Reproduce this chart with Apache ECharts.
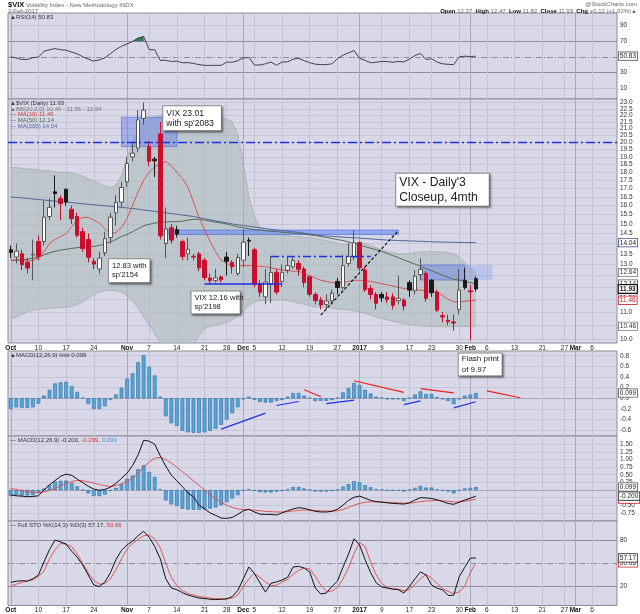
<!DOCTYPE html>
<html>
<head>
<meta charset="utf-8">
<script src="https://cdn.jsdelivr.net/npm/echarts@6.0.0/dist/echarts.min.js"></script>
<style>
html,body{margin:0;padding:0;background:#ffffff;}
#chart{width:640px;height:614px;}
</style>
</head>
<body>
<div id="chart"></div>
<script>
// ---------- trading days (day numbers by month) ----------
const octDays = [3,4,5,6,7,10,11,12,13,14,17,18,19,20,21,24,25,26,27,28,31];
const novDays = [1,2,3,4,7,8,9,10,11,14,15,16,17,18,21,22,23,25,28,29,30];
const decDays = [1,2,5,6,7,8,9,12,13,14,15,16,19,20,21,22,23,27,28,29,30];
const janDays = [3,4,5,6,9,10,11,12,13,17,18,19,20,23,24,25,26,27,30,31];
const febDays = [1,2,3,6,7,8,9,10,13,14,15,16,17,21,22,23,24,27,28];
const marDays = [1,2,3,6,7,8,9,10];

// ---------- x tick labels ----------
const tickDates = ['2016-10-03','2016-10-10','2016-10-17','2016-10-24','2016-11-01','2016-11-07','2016-11-14','2016-11-21','2016-11-28','2016-12-01','2016-12-05','2016-12-12','2016-12-19','2016-12-27','2017-01-03','2017-01-09','2017-01-17','2017-01-23','2017-01-30','2017-02-01','2017-02-06','2017-02-13','2017-02-21','2017-02-27','2017-03-01','2017-03-06'];
const tickTexts = ['Oct','10','17','24','Nov','7','14','21','28','Dec','5','12','19','27','2017','9','17','23','30','Feb','6','13','21','27','Mar','6'];

// ---------- daily candles ----------
const openV = [
 13.70,13.35,13.50,13.10,13.45,14.10,14.10,15.40,16.80,16.40,
 16.95,15.80,15.40,14.60,14.20,13.15,12.80,13.55,14.30,15.60,
 16.20,17.40,19.00,19.60,21.75,19.70,18.85,20.60,14.00,14.80,
 14.70,14.10,13.50,13.38,13.50,13.20,12.40,12.28,12.45,13.35,
 13.10,12.60,13.20,14.16,13.70,12.15,11.60,12.15,12.65,12.25,
 12.75,12.90,13.05,12.80,12.45,11.70,11.47,11.30,11.45,12.25,
 12.00,13.05,13.35,14.05,12.75,11.95,11.70,11.70,11.60,11.60,
 11.45,11.47,12.20,11.85,12.55,12.60,12.30,11.80,10.85,10.68,
 10.62,11.10,12.30,11.85,12.37];
const closeV = [
 13.57,13.63,12.99,12.84,13.48,13.38,15.36,15.91,16.69,16.12,
 16.21,15.28,14.41,13.75,13.34,13.02,13.30,14.24,15.36,16.19,
 17.06,18.56,19.25,21.65,22.40,18.71,18.74,14.38,14.74,14.17,
 14.48,13.37,13.72,13.35,12.85,12.42,12.28,12.40,12.32,13.15,
 12.90,13.33,14.07,14.12,12.14,11.79,12.22,12.64,11.80,12.64,
 12.95,13.19,12.79,12.20,11.71,11.45,11.27,11.43,11.75,11.99,
 12.95,13.37,14.04,12.85,11.90,11.70,11.34,11.56,11.49,11.26,
 11.54,11.23,11.88,12.48,12.78,11.54,11.77,11.07,10.81,10.63,
 10.58,11.88,11.99,11.81,11.93];
const lowV = [
 13.30,13.05,12.75,12.60,12.30,13.20,13.90,15.20,15.90,15.20,
 16.00,15.00,14.30,13.60,13.10,12.80,12.60,13.40,14.00,14.90,
 15.90,17.10,18.70,19.30,21.30,18.40,17.70,14.20,13.30,14.00,
 14.30,13.20,13.20,13.20,12.70,12.30,12.10,12.20,12.20,12.50,
 12.60,12.50,12.90,13.40,12.00,11.60,11.30,11.35,11.70,12.00,
 12.60,12.80,12.50,12.00,11.60,11.30,11.10,11.10,11.30,11.70,
 11.90,12.90,13.20,12.70,11.80,11.50,11.10,11.40,11.35,11.10,
 11.30,11.05,11.60,11.70,12.30,11.40,11.60,11.00,10.60,10.50,
 10.30,10.90,11.90,9.97,11.82];
const highV = [
 13.90,14.00,13.70,13.30,14.20,14.40,16.30,16.40,17.80,16.60,
 17.00,16.00,15.60,14.80,14.50,13.30,13.60,14.60,15.60,16.60,
 17.40,19.00,20.00,22.40,23.01,20.10,19.00,21.50,15.90,15.00,
 14.90,14.20,14.30,13.50,13.60,13.30,12.60,12.80,12.50,13.60,
 13.20,13.50,14.70,14.30,13.80,12.30,12.80,13.40,12.80,13.00,
 13.40,13.40,13.20,12.90,12.50,11.80,11.60,11.70,11.90,12.40,
 13.45,14.05,14.65,14.10,12.90,12.10,11.80,11.80,11.80,11.75,
 12.50,11.55,12.30,12.75,13.30,12.70,12.35,11.90,11.00,10.90,
 10.90,12.80,12.85,12.10,12.47];

// ---------- overlays ----------
const ma10 = [
 13.20,13.20,13.20,13.15,13.20,13.30,13.60,14.00,14.20,14.35,
 14.50,14.85,15.20,15.35,15.35,15.20,15.05,14.75,14.50,14.55,
 14.80,15.30,16.00,16.80,17.50,18.00,18.35,18.55,18.70,18.40,
 18.00,17.60,17.10,16.20,15.35,14.70,14.10,13.60,13.20,13.05,
 12.95,12.95,12.95,12.95,12.95,12.92,12.90,12.85,12.80,12.75,
 12.72,12.70,12.70,12.60,12.50,12.40,12.30,12.25,12.20,12.20,
 12.20,12.25,12.30,12.30,12.28,12.25,12.20,12.15,12.10,12.05,
 12.00,11.95,11.92,11.90,11.88,11.85,11.82,11.80,11.65,11.50,
 11.40,11.40,11.42,11.45,11.46];
const ma50 = [
 13.20,13.20,13.22,13.25,13.30,13.35,13.45,13.55,13.62,13.68,
 13.72,13.76,13.80,13.82,13.84,13.86,13.90,13.98,14.08,14.20,
 14.35,14.45,14.60,14.75,14.90,14.98,15.05,15.08,15.10,15.12,
 15.12,15.15,15.20,15.25,15.25,15.20,15.15,15.10,15.05,15.00,
 14.92,14.85,14.80,14.75,14.70,14.68,14.65,14.62,14.60,14.57,
 14.55,14.52,14.50,14.47,14.43,14.40,14.35,14.30,14.25,14.20,
 14.15,14.08,14.00,13.93,13.85,13.77,13.70,13.62,13.52,13.42,
 13.32,13.22,13.12,13.02,12.92,12.82,12.72,12.62,12.52,12.43,
 12.35,12.30,12.25,12.20,12.14];
const ma200 = [
 16.50,16.47,16.44,16.41,16.38,16.35,16.32,16.29,16.26,16.23,
 16.20,16.17,16.14,16.11,16.08,16.05,16.02,15.99,15.96,15.93,
 15.90,15.87,15.84,15.80,15.76,15.72,15.68,15.64,15.60,15.56,
 15.52,15.48,15.44,15.40,15.34,15.28,15.22,15.16,15.11,15.06,
 15.00,14.96,14.92,14.88,14.84,14.80,14.76,14.72,14.68,14.65,
 14.62,14.59,14.56,14.52,14.48,14.44,14.40,14.38,14.36,14.34,
 14.32,14.30,14.29,14.27,14.25,14.23,14.21,14.19,14.17,14.16,
 14.15,14.14,14.13,14.12,14.11,14.10,14.09,14.08,14.07,14.07,
 14.06,14.06,14.05,14.05,14.04];
const bbUpper = [
 18.30,18.30,18.25,18.20,18.20,18.15,18.10,18.10,18.05,18.00,
 18.00,17.95,17.85,17.75,17.60,17.45,17.30,17.15,17.05,17.20,
 17.80,18.90,20.00,20.90,21.50,21.70,21.85,22.00,22.10,22.15,
 22.20,22.15,22.10,22.05,22.00,21.95,21.90,21.85,21.80,21.70,
 21.50,20.60,18.60,16.50,15.40,14.80,14.65,14.60,14.50,14.45,
 14.40,14.35,14.35,14.30,14.30,14.25,14.20,14.15,14.10,14.00,
 13.95,13.95,14.00,14.05,14.00,13.90,13.80,13.70,13.60,13.55,
 13.50,13.50,13.50,13.55,13.60,13.60,13.60,13.60,13.60,13.55,
 13.50,13.35,13.10,12.85,12.64];
const bbLower = [
 10.75,10.80,10.90,11.00,11.08,11.10,11.12,11.14,11.16,11.17,
 11.18,11.22,11.28,11.40,11.55,11.69,11.80,11.86,11.88,11.86,
 11.80,11.65,11.45,11.15,10.80,10.50,10.20,9.85,9.50,9.35,
 9.30,9.30,9.40,9.80,10.10,10.38,10.45,10.50,10.55,10.60,
 10.70,10.85,11.05,11.25,11.40,11.45,11.45,11.45,11.47,11.48,
 11.45,11.40,11.35,11.30,11.25,11.20,11.20,11.18,11.15,11.12,
 11.10,11.08,11.05,11.00,10.95,10.88,10.80,10.75,10.70,10.65,
 10.60,10.55,10.52,10.50,10.47,10.46,10.45,10.45,10.44,10.44,
 10.45,10.45,10.45,10.46,10.46];

// ---------- indicators ----------
const rsi = [
 50.0,48.5,46.6,46.6,49.0,49.6,57.0,59.0,60.5,59.0,
 58.4,56.0,53.8,50.0,47.0,44.5,46.0,48.7,54.0,59.3,
 63.5,66.5,69.5,74.0,76.0,59.0,59.0,45.4,45.5,44.0,
 44.5,42.4,42.5,41.5,40.0,39.0,39.0,39.0,39.0,43.3,
 43.0,45.0,48.5,49.2,39.5,39.5,41.0,43.3,39.0,43.3,
 43.5,47.0,48.0,45.0,42.5,40.5,40.0,40.0,41.0,47.5,
 52.0,55.0,58.0,48.0,45.4,42.4,43.0,44.1,43.8,43.0,
 44.0,43.5,47.0,51.7,54.2,46.6,47.5,43.3,41.0,40.3,
 40.0,50.0,50.8,50.2,50.83];
const rsiHotIdx = [22,23,24];
const rsiHotVal = [70.0,74.0,76.0];
const macdHist = [
 -0.20,-0.17,-0.18,-0.18,-0.17,-0.10,0.05,0.16,0.28,0.30,
 0.31,0.23,0.12,0.01,-0.11,-0.20,-0.20,-0.15,-0.03,0.07,
 0.20,0.37,0.47,0.68,0.81,0.59,0.43,0.03,-0.34,-0.47,
 -0.52,-0.61,-0.64,-0.65,-0.65,-0.64,-0.61,-0.57,-0.50,-0.40,
 -0.28,-0.17,-0.02,0.03,-0.03,-0.07,-0.08,-0.08,-0.05,-0.03,
 0.03,0.10,0.10,0.05,0.01,-0.05,-0.05,-0.05,-0.03,0.01,
 0.11,0.19,0.29,0.25,0.16,0.09,0.03,0.01,-0.02,-0.02,
 -0.02,-0.05,0.01,0.07,0.13,0.08,0.08,0.02,-0.02,-0.05,
 -0.11,-0.02,0.05,0.07,0.099];
const macdLine = [
 -0.16,-0.19,-0.20,-0.22,-0.21,-0.19,0.00,0.17,0.31,0.45,
 0.52,0.48,0.36,0.24,0.12,0.03,-0.01,0.02,0.09,0.22,
 0.38,0.55,0.80,1.15,1.63,1.60,1.50,1.12,0.78,0.49,
 0.30,0.11,-0.10,-0.22,-0.50,-0.62,-0.75,-0.83,-0.92,-0.93,
 -0.90,-0.80,-0.68,-0.63,-0.72,-0.79,-0.80,-0.80,-0.82,-0.75,
 -0.68,-0.62,-0.58,-0.60,-0.65,-0.70,-0.72,-0.72,-0.70,-0.63,
 -0.50,-0.34,-0.24,-0.20,-0.27,-0.34,-0.38,-0.40,-0.42,-0.44,
 -0.45,-0.46,-0.42,-0.33,-0.25,-0.26,-0.28,-0.32,-0.38,-0.44,
 -0.47,-0.40,-0.33,-0.27,-0.20];
const macdSignal = [
 0.05,0.02,-0.02,-0.05,-0.08,-0.09,-0.06,-0.02,0.05,0.14,
 0.22,0.28,0.31,0.30,0.27,0.23,0.18,0.14,0.12,0.14,
 0.20,0.28,0.38,0.55,0.75,0.92,1.04,1.07,1.00,0.88,
 0.75,0.60,0.45,0.30,0.15,0.00,-0.15,-0.28,-0.40,-0.50,
 -0.57,-0.62,-0.64,-0.65,-0.66,-0.68,-0.70,-0.71,-0.72,-0.72,
 -0.71,-0.69,-0.67,-0.66,-0.66,-0.67,-0.68,-0.69,-0.69,-0.68,
 -0.64,-0.57,-0.50,-0.44,-0.40,-0.39,-0.39,-0.39,-0.40,-0.41,
 -0.42,-0.43,-0.43,-0.41,-0.38,-0.36,-0.35,-0.34,-0.35,-0.37,
 -0.39,-0.39,-0.37,-0.34,-0.30];
const stoK = [
 25.5,27.0,27.5,27.0,30.0,35.0,52.0,68.0,80.4,78.0,
 75.0,66.0,58.0,48.0,35.0,22.0,20.0,26.0,38.0,55.0,
 67.0,74.0,79.0,86.0,91.8,84.0,72.0,56.0,30.0,18.0,
 16.0,12.0,9.0,7.0,5.0,4.4,3.5,3.1,3.5,4.0,
 7.0,15.0,30.0,45.4,37.0,25.0,12.8,24.2,26.0,28.5,
 31.8,45.4,46.2,44.0,39.0,18.0,10.3,11.6,20.0,27.0,
 45.0,62.0,82.0,74.0,55.0,38.0,25.0,19.5,18.0,16.6,
 16.0,11.6,20.0,30.0,39.0,35.0,22.0,17.9,15.8,8.6,
 8.6,32.7,45.0,56.8,57.17];
const stoD = [
 20.9,23.0,25.5,27.5,29.0,33.0,40.0,56.0,68.0,76.0,
 75.0,72.0,62.0,50.0,38.0,28.0,23.0,24.0,30.0,42.0,
 56.0,68.6,76.0,81.3,86.0,87.0,82.0,70.0,50.0,32.0,
 21.0,15.0,11.0,9.0,7.0,6.0,5.0,4.4,4.0,4.0,
 5.0,9.0,20.0,30.0,37.0,32.0,26.0,21.3,21.5,26.0,
 29.0,36.0,41.0,44.0,43.0,33.0,22.0,13.7,14.0,18.7,
 30.0,44.0,63.0,77.0,72.0,52.0,35.0,24.0,18.7,17.0,
 16.6,14.5,16.0,23.0,30.0,35.6,31.0,24.2,17.0,13.7,
 11.0,13.0,20.9,38.0,50.66];

// ---------- axis tick values ----------
const rsiTicks = [90,70,30,10];
const mainTicks = [23.0,22.5,22.0,21.5,21.0,20.5,20.0,19.5,19.0,18.5,18.0,17.5,17.0,16.5,16.0,15.5,15.0,14.5,14.0,13.5,13.0,12.5,12.0,11.5,11.0,10.5,10.0];
const mainHiddenLabels = [14.0,12.0,11.5,10.5];
const histTicks = [0.8,0.6,0.4,0.2,0.0,-0.2,-0.4,-0.6];
const histHiddenLabels = [];
const macdTicks = [1.5,1.25,1.0,0.75,0.5,0.25,0.0,-0.25,-0.5,-0.75];
const macdHiddenLabels = [0.0,-0.25];
const stoTicks = [80,20];

// ---------- annotations (data space) ----------
const zoneBoxes = [[20,30,21.85,19.70],[28,70,14.68,14.45],[74,82,12.98,12.31],[82,87,12.98,12.31]];
const trendSeg = [[56,10.88,70,14.65]];
const dashDotSeg = [[47,13.40,65,13.40]];
const solidSeg = [[35,12.16,49,12.16]];
const levelLine = [20.0];
const histRedSeg = [[53,0.16,56,0.03],[62,0.33,71,0.11],[74,0.18,80,0.10],[86,0.14,92,0.01]];
const histBlueSeg = [[38,-0.58,46,-0.28],[48,-0.136,52,-0.06],[57,-0.10,62,-0.036],[71,-0.12,74,-0.05],[80,-0.18,84,-0.065]];
const mainNotes = [
  {i:28, v:22.68, text:"VIX 23.01\nwith sp'2083"},
  {i:18, v:13.22, text:"12.83 with\nsp'2154"},
  {i:33, v:11.80, text:"VIX 12.16 with\nsp'2198"},
  {i:70, v:17.87, text:"VIX - Daily'3\nCloseup, 4mth"}
];
const histNotes = [{i:81, v:0.833, text:"Flash print\nof 9.97"}];

// ---------- build ----------
const pad2 = d => (d < 10 ? '0' : '') + d;
const dates = [].concat(
  octDays.map(d => '2016-10-' + pad2(d)), novDays.map(d => '2016-11-' + pad2(d)),
  decDays.map(d => '2016-12-' + pad2(d)), janDays.map(d => '2017-01-' + pad2(d)),
  febDays.map(d => '2017-02-' + pad2(d)), marDays.map(d => '2017-03-' + pad2(d)));
const LAST = closeV.length - 1;
const FONT = 'Liberation Sans';
const RED = '#c8102e', BLK = '#1a1a1a';
const tickSet = new Set(tickDates);
const isMonthTick = k => isNaN(+tickTexts[k]) || tickTexts[k] === '2017';
const fmt = (v, d) => v.toFixed(d);

const candleData = closeV.map((c, i) => {
  const o = openV[i];
  const red = i > 0 && c < closeV[i - 1];
  const hollow = c > o;
  const edge = red ? RED : (hollow ? '#555555' : BLK);
  const fill = hollow ? '#fcfcfc' : (red ? RED : BLK);
  return {value: [o, c, lowV[i], highV[i]], itemStyle: {color: fill, color0: fill, borderColor: edge, borderColor0: edge, borderWidth: 1}};
});
const rsiHotData = rsi.map((v, i) => { const k = rsiHotIdx.indexOf(i); return k < 0 ? null : rsiHotVal[k]; });

function vLineItems() {
  return tickDates.map((d, k) => ({xAxis: d, lineStyle: {color: isMonthTick(k) ? '#a8a8bb' : '#c3c3d3', width: 1, type: 'solid'}, label: {show: false}}));
}
function hItem(v, text, color, type, width) {
  return {yAxis: v, lineStyle: {color: color, type: type || 'solid', width: width || 1},
    label: text == null ? {show: false} : {show: true, position: 'end', distance: 3, formatter: text, color: '#333', fontSize: 6.5, fontFamily: FONT}};
}
function gridML(items) {
  return {silent: true, symbol: ['none', 'none'], z: 1, animation: false, label: {show: false}, data: items.concat(vLineItems())};
}
function valBox(v, text, border, color, bold) {
  return {coord: [dates[LAST], v], label: {show: true, position: 'right', distance: 142.5, formatter: text,
    backgroundColor: '#fff', borderColor: border, borderWidth: bold ? 1.2 : 0.8, padding: [0, 1, 0, 1],
    fontSize: 6.5, lineHeight: 7.5, color: color, fontWeight: bold ? 'bold' : 'normal', fontFamily: FONT}};
}
function boxesMP(items) {
  return {silent: true, z: 10, animation: false, symbol: 'rect', symbolSize: 1, itemStyle: {color: 'rgba(0,0,0,0)'}, data: items};
}
function noteItem(n, fs, lh, w, pad, dx) {
  return {coord: [dates[n.i], n.v], label: {show: true, position: [0, 0], align: 'left', verticalAlign: 'top', offset: [dx, 0],
    formatter: n.text, fontSize: fs, lineHeight: lh, width: w, padding: pad, color: '#222', fontFamily: FONT,
    backgroundColor: '#ffffff', borderColor: '#8c8c8c', borderWidth: 1,
    shadowColor: 'rgba(0,0,0,0.35)', shadowBlur: 2, shadowOffsetX: 1.5, shadowOffsetY: 1.5}};
}
function seg(s, style) {
  return [{coord: [dates[s[0]], s[1]], lineStyle: style}, {coord: [dates[s[2]], s[3]]}];
}

// horizontal grid definitions
const rsiLines = [
  hItem(90, '90', '#c3c3d3'), hItem(70, '70', '#8e8ea0'), hItem(50, null, '#7a7a8c', [6, 2, 1, 2], 0.8),
  hItem(30, '30', '#8e8ea0'), hItem(10, '10', '#c3c3d3')];
const mainLines = mainTicks.map(v => hItem(v, mainHiddenLabels.indexOf(v) >= 0 ? null : fmt(v, 1), '#c6c6d6'));
const histLines = histTicks.map(v => hItem(v, histHiddenLabels.indexOf(v) >= 0 ? null : fmt(v, 1), v === 0 ? '#a8a8ba' : '#c6c6d6'));
const macdLines = macdTicks.map(v => hItem(v, macdHiddenLabels.indexOf(v) >= 0 ? null : fmt(v, 2), v === 0 ? '#a8a8ba' : '#c6c6d6'));
const stoLines = [hItem(80, '80', '#8e8ea0'), hItem(50, null, '#7a7a8c', [6, 2, 1, 2], 0.8), hItem(20, '20', '#8e8ea0')];

function xAx(gi, show) {
  return {type: 'category', gridIndex: gi, data: dates, boundaryGap: true,
    axisLine: {show: false}, axisTick: {show: false}, splitLine: {show: false},
    axisLabel: {show: show, interval: (i, v) => tickSet.has(v), margin: 1.5, fontSize: 6.5, color: '#222', fontFamily: FONT,
      formatter: v => { const k = tickDates.indexOf(v); if (k < 0) return ''; return isMonthTick(k) ? '{m|' + tickTexts[k] + '}' : tickTexts[k]; },
      rich: {m: {fontWeight: 'bold', fontSize: 6.5, color: '#111', fontFamily: FONT}}}};
}
const gridStyle = {show: true, left: 8, right: 23, backgroundColor: '#d8d8e8', borderColor: '#8a8a9a', borderWidth: 1};

const chart = echarts.init(document.getElementById('chart'), null, {renderer: 'canvas'});
const option = {
  animation: false,
  backgroundColor: '#ffffff',
  textStyle: {fontFamily: FONT},
  grid: [
    Object.assign({top: 13, height: 86}, gridStyle),
    Object.assign({top: 99, height: 244}, gridStyle),
    Object.assign({top: 351, height: 85}, gridStyle),
    Object.assign({top: 436, height: 85}, gridStyle),
    Object.assign({top: 521, height: 86}, gridStyle)
  ],
  xAxis: [xAx(0, false), xAx(1, true), xAx(2, false), xAx(3, false), xAx(4, true)],
  yAxis: [
    {gridIndex: 0, type: 'value', min: -4, max: 106, show: false},
    {gridIndex: 1, type: 'log', logBase: 10, min: 9.86, max: 23.30, show: false},
    {gridIndex: 2, type: 'value', min: -0.709, max: 0.889, show: false},
    {gridIndex: 3, type: 'value', min: -1.016, max: 1.77, show: false},
    {gridIndex: 4, type: 'value', min: -4.6, max: 105.1, show: false}
  ],
  series: [
    // ---- RSI ----
    {type: 'line', xAxisIndex: 0, yAxisIndex: 0, data: rsiHotData, symbol: 'none', connectNulls: false,
      lineStyle: {width: 0}, areaStyle: {origin: 70, color: '#2f7a52', opacity: 1}, z: 2, silent: true},
    {type: 'line', xAxisIndex: 0, yAxisIndex: 0, data: rsi, symbol: 'none', lineStyle: {color: '#333', width: 0.9}, z: 3, silent: true,
      markLine: gridML(rsiLines),
      markPoint: boxesMP([valBox(50.83, '50.83', '#555', '#222', false)])},
    // ---- main: Bollinger band fill ----
    {type: 'custom', xAxisIndex: 1, yAxisIndex: 1, data: [[0, 12]], z: 2, silent: true,
      renderItem: (params, api) => {
        const cs = params.coordSys;
        const yb = cs.y + cs.height, yt = cs.y;
        const pts = [];
        for (let i = 0; i < bbUpper.length; i++) { const p = api.coord([i, bbUpper[i]]); pts.push([p[0], Math.max(yt, Math.min(yb, p[1]))]); }
        for (let i = bbLower.length - 1; i >= 0; i--) { const p = api.coord([i, bbLower[i]]); pts.push([p[0], Math.max(yt, Math.min(yb, p[1]))]); }
        return {type: 'polygon', shape: {points: pts}, style: {fill: 'rgba(172,186,184,0.55)', stroke: 'none'}, silent: true};
      }},
    {type: 'line', xAxisIndex: 1, yAxisIndex: 1, data: bbUpper, symbol: 'none', lineStyle: {color: '#a4acb0', width: 0.8}, z: 2, silent: true,
      markLine: gridML(mainLines),
      markPoint: boxesMP([valBox(12.64, '12.64', '#777', '#333', false), valBox(11.56, '11.56', '#777', '#333', false), valBox(10.46, '10.46', '#777', '#333', false)])},
    {type: 'line', xAxisIndex: 1, yAxisIndex: 1, data: bbLower, symbol: 'none', lineStyle: {color: '#a4acb0', width: 0.8}, z: 2, silent: true},
    {type: 'line', xAxisIndex: 1, yAxisIndex: 1, data: ma200, symbol: 'none', lineStyle: {color: '#52649a', width: 1}, z: 3, silent: true,
      markPoint: boxesMP([valBox(14.04, '14.04', '#3a4a80', '#222', false)])},
    {type: 'line', xAxisIndex: 1, yAxisIndex: 1, data: ma50, symbol: 'none', lineStyle: {color: '#4e6e54', width: 1}, z: 3, silent: true,
      markPoint: boxesMP([valBox(12.14, '12.14', '#555', '#222', false)])},
    {type: 'line', xAxisIndex: 1, yAxisIndex: 1, data: ma10, symbol: 'none', lineStyle: {color: '#d24a4a', width: 0.9}, z: 3, silent: true,
      markPoint: boxesMP([
        valBox(11.46, '11.46', '#d03030', '#c02020', false),
        noteItem(mainNotes[0], 8.6, 10, 51.7, [2, 3, 2, 3], -2),
        noteItem(mainNotes[1], 7.6, 9, 34.7, [2.5, 3, 2.5, 3], -1),
        noteItem(mainNotes[2], 7.6, 9, 42.3, [2, 3, 2, 3], -1.5),
        noteItem(mainNotes[3], 12.2, 15, 86.6, [1, 3, 1, 3], -1.6)
      ])},
    {type: 'candlestick', xAxisIndex: 1, yAxisIndex: 1, data: candleData, barWidth: 4, z: 4, silent: true,
      markArea: {silent: true, z: 3, animation: false, data: zoneBoxes.map((b, k) => [
        {coord: [dates[b[0]], b[2]], itemStyle: k === 3 ? {color: 'rgba(120,150,240,0.30)', borderWidth: 0}
          : {color: k === 1 ? 'rgba(95,135,245,0.55)' : 'rgba(90,120,235,0.42)', borderColor: 'rgba(70,100,220,0.75)', borderWidth: 0.8}},
        {coord: [dates[b[1]], b[3]]}])},
      markLine: {silent: true, symbol: ['none', 'none'], z: 6, animation: false, label: {show: false},
        data: [].concat(
          levelLine.map(v => ({yAxis: v, lineStyle: {color: '#2030d8', width: 1.3, type: [9, 3, 2, 3]}})),
          trendSeg.map(s => seg(s, {color: '#111', width: 1.2, type: [3, 2]})),
          dashDotSeg.map(s => seg(s, {color: '#1f2fe0', width: 1.4, type: [8, 3, 2, 3]})),
          solidSeg.map(s => seg(s, {color: '#1f2fe0', width: 1.5, type: 'solid'})))},
      markPoint: boxesMP([valBox(11.93, '11.93', '#111', '#111', true)])},
    // ---- MACD histogram panel ----
    {type: 'bar', xAxisIndex: 2, yAxisIndex: 2, data: macdHist, barWidth: 3.7, silent: true, z: 2,
      itemStyle: {color: '#55a6da', borderColor: '#2d6f9f', borderWidth: 0.6},
      markLine: gridML(histLines),
      markPoint: boxesMP([valBox(0.099, '0.099', '#555', '#222', false)])},
    {type: 'line', xAxisIndex: 2, yAxisIndex: 2, data: [], symbol: 'none', silent: true, z: 5,
      markLine: {silent: true, symbol: ['none', 'none'], z: 6, animation: false, label: {show: false},
        data: [].concat(histRedSeg.map(s => seg(s, {color: '#ee2020', width: 1.2, type: 'solid'})),
                        histBlueSeg.map(s => seg(s, {color: '#2030ee', width: 1.2, type: 'solid'})))},
      markPoint: boxesMP([noteItem(histNotes[0], 8, 10.5, 37, [0.5, 3, 0.5, 3], 0)])},
    // ---- MACD lines panel ----
    {type: 'bar', xAxisIndex: 3, yAxisIndex: 3, data: macdHist, barWidth: 3.7, silent: true, z: 2,
      itemStyle: {color: '#55a6da', borderColor: '#2d6f9f', borderWidth: 0.6},
      markLine: gridML(macdLines),
      markPoint: boxesMP([valBox(0.099, '0.099', '#555', '#222', false)])},
    {type: 'line', xAxisIndex: 3, yAxisIndex: 3, data: macdSignal, symbol: 'none', lineStyle: {color: '#e04848', width: 0.9}, z: 3, silent: true,
      markPoint: boxesMP([valBox(-0.299, '-0.299', '#d03030', '#333', false)])},
    {type: 'line', xAxisIndex: 3, yAxisIndex: 3, data: macdLine, symbol: 'none', lineStyle: {color: '#111', width: 1}, z: 4, silent: true,
      markPoint: boxesMP([valBox(-0.200, '-0.200', '#333', '#222', false)])},
    // ---- Full STO ----
    {type: 'line', xAxisIndex: 4, yAxisIndex: 4, data: stoD, symbol: 'none', lineStyle: {color: '#e04848', width: 0.9}, z: 3, silent: true,
      markLine: gridML(stoLines),
      markPoint: boxesMP([valBox(50.66, '50.66', '#d03030', '#333', false)])},
    {type: 'line', xAxisIndex: 4, yAxisIndex: 4, data: stoK, symbol: 'none', lineStyle: {color: '#111', width: 1}, z: 4, silent: true,
      markPoint: boxesMP([valBox(57.17, '57.17', '#333', '#222', false)])}
  ],
  graphic: [
    {type: 'text', left: 8, top: 1, silent: true, z: 20, style: {text: '{b|$VIX} Volatility Index - New Methodology INDX', fontSize: 6, fontFamily: FONT, fill: '#666',
      rich: {b: {fontSize: 7.5, fontWeight: 'bold', fill: '#111', fontFamily: FONT}}}},
    {type: 'text', left: 8, top: 8.5, silent: true, z: 20, style: {text: '2-Feb-2017', fontSize: 5.8, fontFamily: FONT, fill: '#666'}},
    {type: 'text', right: 3, top: 1, silent: true, z: 20, style: {text: '@StockCharts.com', fontSize: 6, fontFamily: FONT, fill: '#666'}},
    {type: 'text', right: 3, top: 8, silent: true, z: 20, style: {text: '{b|Open} 12.37  {b|High} 12.47  {b|Low} 11.82  {b|Close} 11.93  {b|Chg} +0.12 (+1.02%)\u25B2',
      fontSize: 6, fontFamily: FONT, fill: '#666', rich: {b: {fontWeight: 'bold', fill: '#111', fontSize: 6, fontFamily: FONT}}}},
    {type: 'text', left: 10, top: 14.5, silent: true, z: 20, style: {text: '\u25B2RSI(14) 50.83', fontSize: 6, fontFamily: FONT, fill: '#333'}},
    {type: 'text', left: 10, top: 100.5, silent: true, z: 20, style: {text: '\u25B2$VIX (Daily) 11.93', fontSize: 6, fontFamily: FONT, fill: '#333'}},
    {type: 'text', left: 10, top: 106.2, silent: true, z: 20, style: {text: '\u25B2BB(20,2.0) 10.46 - 11.56 - 12.64', fontSize: 6, fontFamily: FONT, fill: '#777'}},
    {type: 'text', left: 10, top: 111.6, silent: true, z: 20, style: {text: '\u2014 MA(10) 11.46', fontSize: 6, fontFamily: FONT, fill: '#d03a3a'}},
    {type: 'text', left: 10, top: 117.2, silent: true, z: 20, style: {text: '\u2014 MA(50) 12.14', fontSize: 6, fontFamily: FONT, fill: '#4e6e54'}},
    {type: 'text', left: 10, top: 123, silent: true, z: 20, style: {text: '\u2014 MA(200) 14.04', fontSize: 6, fontFamily: FONT, fill: '#52649a'}},
    {type: 'text', left: 10, top: 352, silent: true, z: 20, style: {text: '\u25B2MACD(12,26,9) Hist 0.099', fontSize: 6, fontFamily: FONT, fill: '#333'}},
    {type: 'text', left: 10, top: 437, silent: true, z: 20, style: {text: '\u2014 MACD(12,26,9) -0.200, {r|-0.299}, {bl|0.099}', fontSize: 6, fontFamily: FONT, fill: '#333',
      rich: {r: {fill: '#d03030', fontSize: 6, fontFamily: FONT}, bl: {fill: '#4a8fc8', fontSize: 6, fontFamily: FONT}}}},
    {type: 'text', left: 10, top: 522, silent: true, z: 20, style: {text: '\u2014 Full STO %K(14,3) %D(3) 57.17, {r|50.66}', fontSize: 6, fontFamily: FONT, fill: '#333',
      rich: {r: {fill: '#d03030', fontSize: 6, fontFamily: FONT}}}}
  ]
};
chart.setOption(option);
</script>
</body>
</html>
